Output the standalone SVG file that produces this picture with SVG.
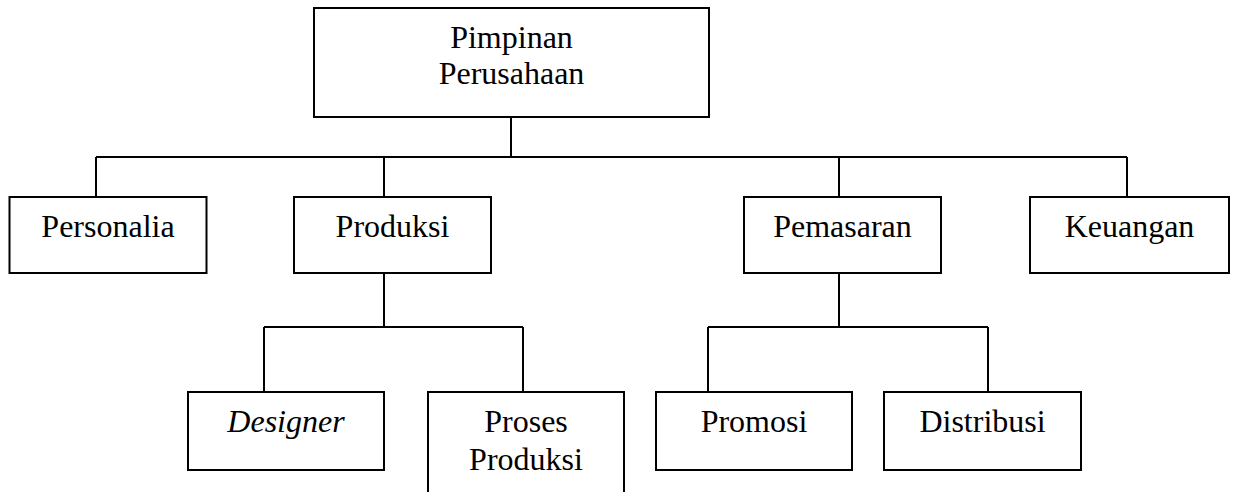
<svg xmlns="http://www.w3.org/2000/svg" width="1234" height="492" viewBox="0 0 1234 492">
<style>
.box{fill:#fff;stroke:#000;stroke-width:2}
.lbl{font-family:"Liberation Serif","Times New Roman",serif;font-size:32px;fill:#000;text-anchor:middle}
.it{font-style:italic}
.con{fill:none;stroke:#000;stroke-width:2}
</style>
<rect width="1234" height="492" fill="#fff"/>
<g id="connectors" class="con">
<path d="M511 117V157M96 157H1127M96 157V197M384 157V197M839 157V197M1127 157V197"/>
<path d="M384 273V327M264 327H523M264 327V392M523 327V392"/>
<path d="M839 273V327M708 327H988M708 327V392M988 327V392"/>
</g>
<g id="pimpinan"><rect class="box" x="314" y="8" width="395" height="109"/><text class="lbl" x="511.5" y="48">Pimpinan</text><text class="lbl" x="511.5" y="84">Perusahaan</text></g>
<g id="personalia"><rect class="box" x="9.5" y="197" width="197" height="76"/><text class="lbl" x="108" y="237">Personalia</text></g>
<g id="produksi"><rect class="box" x="294" y="197" width="197" height="76"/><text class="lbl" x="392.5" y="237">Produksi</text></g>
<g id="pemasaran"><rect class="box" x="744" y="197" width="197" height="76"/><text class="lbl" x="842.5" y="237">Pemasaran</text></g>
<g id="keuangan"><rect class="box" x="1030" y="197" width="199" height="76"/><text class="lbl" x="1129.5" y="237">Keuangan</text></g>
<g id="designer"><rect class="box" x="188" y="392" width="196" height="78"/><text class="lbl it" x="286" y="432">Designer</text></g>
<g id="proses-produksi"><rect class="box" x="428" y="392" width="196" height="110"/><text class="lbl" x="526" y="432">Proses</text><text class="lbl" x="526" y="470">Produksi</text></g>
<g id="promosi"><rect class="box" x="656" y="392" width="196" height="78"/><text class="lbl" x="754" y="432">Promosi</text></g>
<g id="distribusi"><rect class="box" x="884" y="392" width="197" height="78"/><text class="lbl" x="982.5" y="432">Distribusi</text></g>
</svg>
